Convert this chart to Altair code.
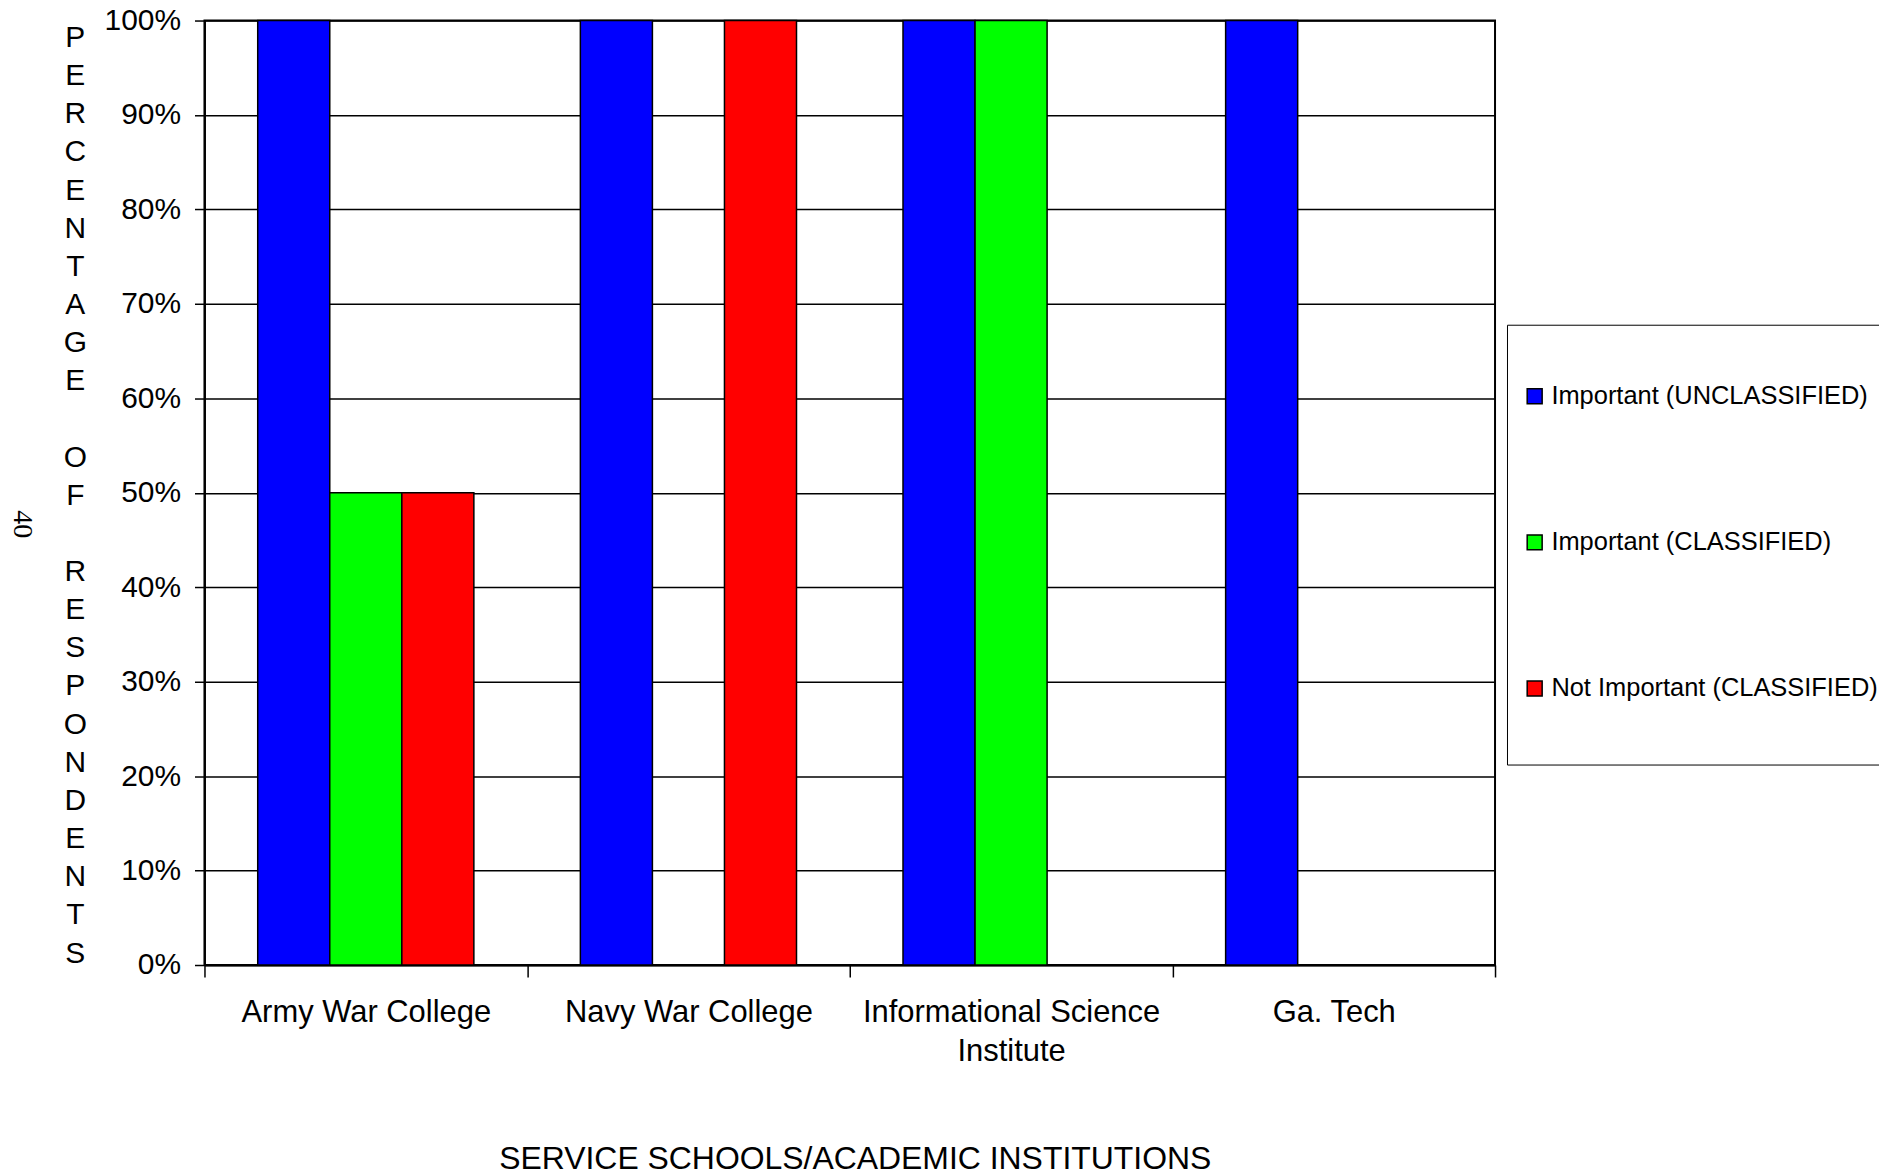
import altair as alt
import pandas as pd

# ---- data ----
institutions = ["Army War College", "Navy War College", "Informational Science Institute", "Ga. Tech"]
series = ["Important (UNCLASSIFIED)", "Important (CLASSIFIED)", "Not Important (CLASSIFIED)"]
important_unclassified = [1.0, 1.0, 1.0, 1.0]
important_classified = [0.5, 0.0, 1.0, 0.0]
not_important_classified = [0.5, 1.0, 0.0, 0.0]
colors = ["#0000FF", "#00FF00", "#FF0000"]
y_ticks = [0, 0.1, 0.2, 0.3, 0.4, 0.5, 0.6, 0.7, 0.8, 0.9, 1.0]
BLANK = "\u2800"  # blank line that still takes up a line
y_title_lines = list("PERCENTAGE") + [BLANK] + list("OF") + [BLANK] + list("RESPONDENTS")
x_title = "SERVICE SCHOOLS/ACADEMIC INSTITUTIONS"
page_number = ["40"]

rows = []
for s, vals in zip(series, [important_unclassified, important_classified, not_important_classified]):
    for inst, v in zip(institutions, vals):
        if v > 0:
            rows.append({"institution": inst, "series": s, "value": v})
df = pd.DataFrame(rows)

FONT = "Liberation Sans"

bars = alt.Chart(df).mark_bar(stroke="black", strokeWidth=1.5).encode(
    x=alt.X(
        "institution:N",
        sort=institutions,
        scale=alt.Scale(domain=institutions, paddingInner=0, paddingOuter=0),
        axis=alt.Axis(
            title=x_title,
            titleFont=FONT,
            titleFontSize=32,
            titleFontWeight="normal",
            titleColor="black",
            titleX=652,
            titleY=204,
            titleAlign="center",
            titleBaseline="alphabetic",
            labelAngle=0,
            labelFont=FONT,
            labelFontSize=31,
            labelColor="black",
            labelBaseline="top",
            labelPadding=21,
            labelLineHeight=38.5,
            labelLimit=0,
            labelExpr="datum.label == 'Informational Science Institute' ? ['Informational Science', 'Institute'] : datum.label",
            tickBand="extent",
            tickSize=12,
            tickWidth=1.5,
            tickColor="black",
            domainColor="black",
            domainWidth=2,
            grid=False,
        ),
    ),
    xOffset=alt.XOffset(
        "series:N",
        sort=series,
        scale=alt.Scale(domain=series, paddingInner=0, paddingOuter=0.739),
    ),
    y=alt.Y(
        "value:Q",
        scale=alt.Scale(domain=[0, 1], nice=False),
        axis=alt.Axis(
            values=y_ticks,
            format=".0%",
            title=y_title_lines,
            titleAngle=0,
            titleFont=FONT,
            titleFontSize=30,
            titleFontWeight="normal",
            titleColor="black",
            titleLineHeight=38.25,
            titleAlign="center",
            titleBaseline="middle",
            titleX=-130,
            titleY=17,
            labelFont=FONT,
            labelFontSize=30,
            labelColor="black",
            labelPadding=14,
            tickSize=10,
            tickWidth=1.5,
            tickColor="black",
            domainColor="black",
            domainWidth=2,
            grid=True,
            gridColor="black",
            gridWidth=1.5,
            gridOpacity=1,
        ),
    ),
    color=alt.Color(
        "series:N",
        sort=series,
        scale=alt.Scale(domain=series, range=colors),
        legend=alt.Legend(
            title="\u00a0",
            titleFontSize=20,
            titlePadding=32,
            orient="none",
            legendX=1306,
            legendY=305,
            symbolType="square",
            symbolSize=225,
            symbolStrokeColor="black",
            symbolStrokeWidth=1.5,
            symbolOpacity=1,
            symbolOffset=8,
            labelFont=FONT,
            labelFontSize=25.5,
            labelColor="black",
            labelLimit=0,
            labelOffset=4,
            labelExpr="[datum.label, '\u00a0', '\u00a0']",
            padding=7,
            rowPadding=64.5,
            fillColor="white",
            strokeColor="black",
        ),
    ),
)

page_df = pd.DataFrame({"page": page_number})
page_text = alt.Chart(page_df).mark_text(
    font="Liberation Serif", fontSize=28, angle=90, color="black",
    align="center", baseline="middle",
).encode(
    x=alt.value(-183),
    y=alt.value(505),
    text="page:N",
)

chart = alt.layer(bars, page_text).properties(
    width=1294,
    height=947,
    padding={"left": 197, "top": 11, "right": 385, "bottom": 215},
    autosize=alt.AutoSizeParams(type="none"),
    background="white",
).configure_view(stroke="black", strokeWidth=2)

chart.save("out.html", embed_options={"renderer": "svg", "actions": False})
